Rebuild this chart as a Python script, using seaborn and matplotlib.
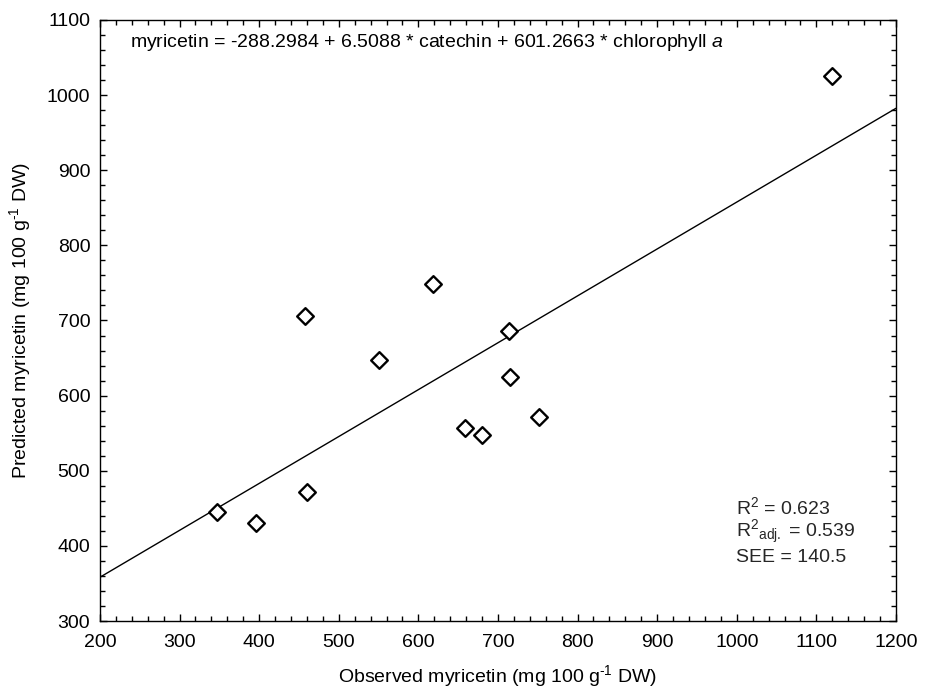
import matplotlib
matplotlib.use("Agg")
import matplotlib.pyplot as plt
import seaborn as sns
import numpy as np
import pandas as pd
from matplotlib.ticker import MultipleLocator

observed = [347, 396, 457, 460, 551, 618, 658, 680, 714, 715, 751, 1120]
predicted = [445, 430, 706, 472, 648, 748, 557, 547, 686, 625, 572, 1026]
x_ticks = [200, 300, 400, 500, 600, 700, 800, 900, 1000, 1100, 1200]
y_ticks = [300, 400, 500, 600, 700, 800, 900, 1000, 1100]

df = pd.DataFrame({"observed": observed, "predicted": predicted})

sns.set_theme(style="ticks")
plt.rcParams["font.family"] = ["Liberation Sans", "DejaVu Sans"]
plt.rcParams["mathtext.fontset"] = "custom"
plt.rcParams["mathtext.rm"] = "Liberation Sans"
plt.rcParams["mathtext.it"] = "Liberation Sans:italic"
plt.rcParams["mathtext.bf"] = "Liberation Sans:bold"

FS = 14

fig = plt.figure(figsize=(9.3, 6.91), dpi=100)
ax = fig.add_axes([0.1075, 0.1013, 0.8559, 0.8698])
ax.set_xlim(x_ticks[0], x_ticks[-1])
ax.set_ylim(y_ticks[0], y_ticks[-1])

sns.regplot(data=df, x="observed", y="predicted", ax=ax, ci=None, truncate=False,
            scatter=False, line_kws=dict(color="black", lw=1.0))
sns.scatterplot(data=df, x="observed", y="predicted", ax=ax, marker="D", s=72,
                facecolor="white", edgecolor="black", linewidth=1.7, zorder=3)

ax.set_xlim(x_ticks[0], x_ticks[-1])
ax.set_ylim(y_ticks[0], y_ticks[-1])
ax.set_xticks(x_ticks)
ax.set_yticks(y_ticks)
ax.xaxis.set_minor_locator(MultipleLocator(20))
ax.yaxis.set_minor_locator(MultipleLocator(20))
ax.tick_params(which="both", direction="in", top=True, right=True, color="black",
               width=1.0, labelsize=FS, labelcolor="black")
ax.tick_params(which="major", length=5)
ax.tick_params(which="minor", length=3.5)
ax.tick_params(axis="x", which="major", pad=9)
ax.tick_params(axis="y", which="major", pad=7)
for sp in ax.spines.values():
    sp.set_color("black")
    sp.set_linewidth(1.0)

sup = "$^{\u2010\\mathrm{1}}$"
ax.set_xlabel("Observed myricetin (mg 100 g" + sup + " DW)", fontsize=FS, color="black", labelpad=9)
ax.set_ylabel("Predicted myricetin (mg 100 g" + sup + " DW)", fontsize=FS, color="black", labelpad=10)

ax.text(0.038, 0.962, r"myricetin = -288.2984 + 6.5088 * catechin + 601.2663 * chlorophyll $\it{a}$",
        transform=ax.transAxes, fontsize=FS, va="center", ha="left", color="black")
ax.text(0.799, 0.190, "R$^2$ = 0.623", transform=ax.transAxes, fontsize=FS, va="center", ha="left")
ax.text(0.799, 0.148, "R$^2$$_{\\mathrm{adj.}}$ = 0.539", transform=ax.transAxes, fontsize=FS, va="center", ha="left")
ax.text(0.799, 0.105, "SEE = 140.5", transform=ax.transAxes, fontsize=FS, va="center", ha="left")

fig.savefig("out.png", dpi=100)
